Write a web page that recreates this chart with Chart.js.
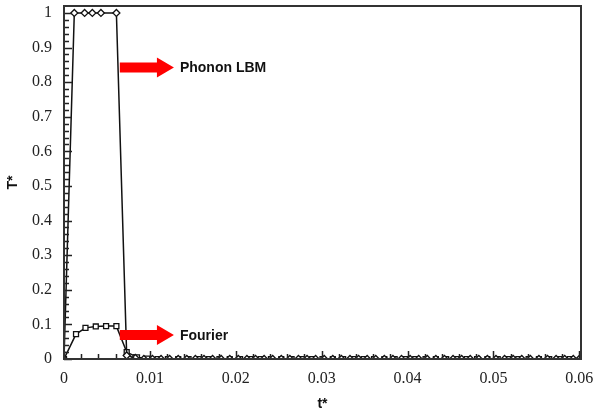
<!DOCTYPE html>
<html><head><meta charset="utf-8">
<script src="https://cdn.jsdelivr.net/npm/chart.js@4/dist/chart.umd.min.js"></script>
<style>html,body{margin:0;padding:0;background:#fff}#wrap{width:597px;height:415px}</style>
</head><body><div id="wrap"><canvas id="c" width="597" height="415"></canvas></div>
<script>
// ---- data ----
const phononT = [0, 0.0012, 0.0024, 0.0033, 0.0043, 0.0061, 0.0073, 0.0083, 0.0093, 0.0103, 0.0113, 0.0123, 0.0133, 0.0143, 0.0153, 0.0163, 0.0173, 0.0183, 0.0193, 0.0203, 0.0213, 0.0223, 0.0233, 0.0243, 0.0253, 0.0263, 0.0273, 0.0283, 0.0293, 0.0303, 0.0313, 0.0323, 0.0333, 0.0343, 0.0353, 0.0363, 0.0373, 0.0383, 0.0393, 0.0403, 0.0413, 0.0423, 0.0433, 0.0443, 0.0453, 0.0463, 0.0473, 0.0483, 0.0493, 0.0503, 0.0513, 0.0523, 0.0533, 0.0543, 0.0553, 0.0563, 0.0573, 0.0583, 0.0593, 0.0600];
const phononV = [0, 1, 1, 1, 1, 1, 0.01, 0.003, 0, 0, 0, 0, 0, 0, 0, 0, 0, 0, 0, 0, 0, 0, 0, 0, 0, 0, 0, 0, 0, 0, 0, 0, 0, 0, 0, 0, 0, 0, 0, 0, 0, 0, 0, 0, 0, 0, 0, 0, 0, 0, 0, 0, 0, 0, 0, 0, 0, 0, 0, 0];
const fourierT = [0, 0.0014, 0.0025, 0.0037, 0.0049, 0.0061, 0.0073, 0.0085, 0.0097, 0.0109, 0.0121, 0.0133, 0.0145, 0.0157, 0.0169, 0.0181, 0.0193, 0.0205, 0.0217, 0.0229, 0.0241, 0.0253, 0.0265, 0.0277, 0.0289, 0.0301, 0.0313, 0.0325, 0.0337, 0.0349, 0.0361, 0.0373, 0.0385, 0.0397, 0.0409, 0.0421, 0.0433, 0.0445, 0.0457, 0.0469, 0.0481, 0.0493, 0.0505, 0.0517, 0.0529, 0.0541, 0.0553, 0.0565, 0.0577, 0.0589];
const fourierV = [0, 0.072, 0.09, 0.094, 0.095, 0.095, 0.02, 0.005, 0.001, 0, 0, 0, 0, 0, 0, 0, 0, 0, 0, 0, 0, 0, 0, 0, 0, 0, 0, 0, 0, 0, 0, 0, 0, 0, 0, 0, 0, 0, 0, 0, 0, 0, 0, 0, 0, 0, 0, 0, 0, 0];
const xTicks = [0, 0.01, 0.02, 0.03, 0.04, 0.05, 0.06];
const yTicks = [0, 0.1, 0.2, 0.3, 0.4, 0.5, 0.6, 0.7, 0.8, 0.9, 1];
const labels = [
  {text: 'Phonon LBM', x0: 0.0065, x1: 0.0128, y: 0.842},
  {text: 'Fourier', x0: 0.0065, x1: 0.0128, y: 0.069}
];

const toPts = (xs, ys) => xs.map((x, i) => ({x: x, y: ys[i]}));

const frame = {
  id: 'frame',
  afterDatasetsDraw(chart) {
    const ctx = chart.ctx, a = chart.chartArea;
    const xs = chart.scales.x, ys = chart.scales.y;
    ctx.save();
    ctx.strokeStyle = '#222';
    ctx.lineWidth = 1.5;
    ctx.beginPath();
    for (let k = 0; k <= 30; k++) {
      const v = k * 0.002;
      const px = Math.round(xs.getPixelForValue(v)) + 0.5;
      const len = (k % 5 === 0) ? 8 : 5;
      ctx.moveTo(px, a.bottom); ctx.lineTo(px, a.bottom - len);
    }
    for (let k = 0; k <= 50; k++) {
      const v = k * 0.02;
      const py = Math.round(ys.getPixelForValue(v)) + 0.5;
      const len = (k % 5 === 0) ? 8 : 5;
      ctx.moveTo(a.left, py); ctx.lineTo(a.left + len, py);
    }
    ctx.stroke();
    ctx.strokeStyle = '#333';
    ctx.lineWidth = 2;
    ctx.strokeRect(a.left, a.top, a.right - a.left, a.bottom - a.top);
    labels.forEach(l => {
      const x0 = xs.getPixelForValue(l.x0), x1 = xs.getPixelForValue(l.x1);
      const y = ys.getPixelForValue(l.y);
      const head = 17, sh = 5, hh = 10;
      ctx.fillStyle = '#ff0000';
      ctx.beginPath();
      ctx.moveTo(x0, y - sh); ctx.lineTo(x1 - head, y - sh); ctx.lineTo(x1 - head, y - hh);
      ctx.lineTo(x1, y); ctx.lineTo(x1 - head, y + hh); ctx.lineTo(x1 - head, y + sh);
      ctx.lineTo(x0, y + sh); ctx.closePath(); ctx.fill();
      ctx.fillStyle = '#111';
      ctx.font = 'bold 14px "Liberation Sans", Arial, sans-serif';
      ctx.textBaseline = 'middle';
      ctx.textAlign = 'left';
      ctx.fillText(l.text, x1 + 6, y + 1);
    });
    ctx.restore();
  }
};

new Chart(document.getElementById('c'), {
  type: 'scatter',
  data: {
    datasets: [
      {label: 'Phonon LBM', data: toPts(phononT, phononV), showLine: true,
       borderColor: '#111', borderWidth: 1.5, pointStyle: 'rectRot', pointRadius: 3.5,
       pointBackgroundColor: '#fff', pointBorderColor: '#111', pointBorderWidth: 1.3},
      {label: 'Fourier', data: toPts(fourierT, fourierV), showLine: true,
       borderColor: '#111', borderWidth: 1.5, pointStyle: 'rect', pointRadius: 3.5,
       pointBackgroundColor: '#fff', pointBorderColor: '#111', pointBorderWidth: 1.3}
    ]
  },
  options: {
    responsive: false, animation: false,
    layout: {padding: {top: 6, right: 16, left: 0, bottom: 0}},
    plugins: {legend: {display: false}, tooltip: {enabled: false}},
    scales: {
      x: {
        type: 'linear', min: 0, max: 0.0602,
        afterBuildTicks: s => { s.ticks = xTicks.map(v => ({value: v})); },
        afterFit: s => { s.height = 56; s.paddingLeft = 0; s.paddingRight = 0; },
        grid: {display: false, drawTicks: false},
        border: {display: false},
        ticks: {padding: 10, color: '#222', font: {family: '"Liberation Serif", "Times New Roman", serif', size: 16},
          callback: v => String(Number(v.toFixed(3)))},
        title: {display: true, text: 't*', color: '#111', padding: {top: 0, bottom: 2},
          font: {family: '"Liberation Sans", Arial, sans-serif', size: 14, weight: 'bold'}}
      },
      y: {
        min: 0, max: 1.02,
        afterBuildTicks: s => { s.ticks = yTicks.map(v => ({value: v})); },
        afterFit: s => { s.width = 64; s.paddingTop = 0; s.paddingBottom = 0; },
        grid: {display: false, drawTicks: false},
        border: {display: false},
        ticks: {padding: 12, color: '#222', font: {family: '"Liberation Serif", "Times New Roman", serif', size: 16},
          callback: v => String(Number(v.toFixed(2)))},
        title: {display: true, text: 'T*', color: '#111', padding: {top: 5, bottom: 0},
          font: {family: '"Liberation Sans", Arial, sans-serif', size: 14, weight: 'bold'}}
      }
    }
  },
  plugins: [frame]
});
</script></body></html>
